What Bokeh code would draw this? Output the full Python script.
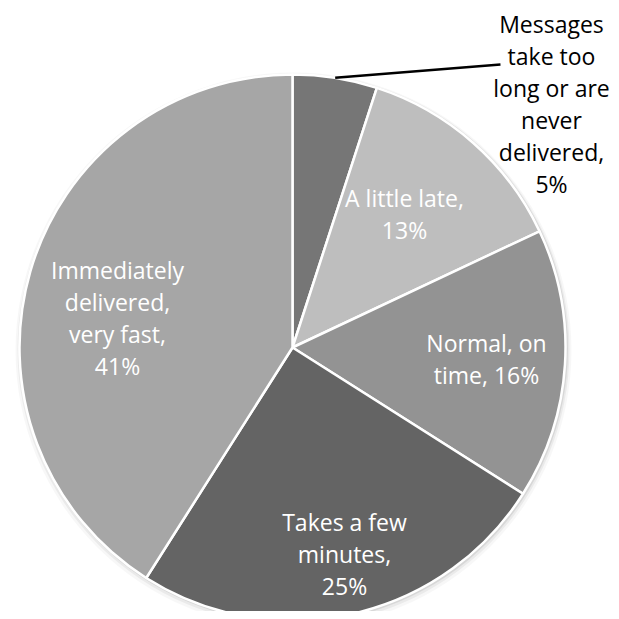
import numpy as np
from bokeh.plotting import figure
from bokeh.models import ColumnDataSource, Range1d
from bokeh.core.properties import value
from bokeh.embed import file_html
from bokeh.resources import INLINE

# ---- data ----
categories = ["Messages take too long or are never delivered",
              "A little late", "Normal, on time",
              "Takes a few minutes", "Immediately delivered, very fast"]
shares = [5, 13, 16, 25, 41]
labels = ["Messages\ntake too\nlong or are\nnever\ndelivered,\n5%",
          "A little late,\n13%",
          "Normal, on\ntime, 16%",
          "Takes a few\nminutes,\n25%",
          "Immediately\ndelivered,\nvery fast,\n41%"]
colors = ["#767676", "#bebebe", "#939393", "#646464", "#a6a6a6"]

# ---- layout ----
W = H = 611
cx, cy, R = 292, H - 347, 273
# label centres relative to pie centre (pixels)
label_off = [(259, 244), (112, 134), (194, -11), (52, -206), (-175, 30)]
label_colors = ["#000000", "#ffffff", "#ffffff", "#ffffff", "#ffffff"]
leader_end = (500, H - 64)

vals = np.array(shares, dtype=float)
frac = vals / vals.sum()
cum = np.concatenate([[0], np.cumsum(frac)])
start = np.pi / 2 - 2 * np.pi * cum[:-1]
end = np.pi / 2 - 2 * np.pi * cum[1:]
mid = (start + end) / 2

p = figure(width=W, height=H, x_range=Range1d(0, W), y_range=Range1d(0, H),
           output_backend="svg", toolbar_location=None, min_border=0)
p.axis.visible = False
p.grid.visible = False
p.outline_line_color = None
p.background_fill_color = "white"

# soft shadow
for dr, dy, a in [(5, -3, 0.03), (3, -2, 0.05), (1.5, -1, 0.08)]:
    p.circle(x=[cx + 1], y=[cy + dy], radius=R + dr, fill_color="black",
             fill_alpha=a, line_color=None)

src = ColumnDataSource(dict(start=end, end=start, color=colors, cat=categories))
p.wedge(x=cx, y=cy, radius=R, start_angle="start", end_angle="end",
        fill_color="color", line_color="white", line_width=2.5, source=src)

# leader line for the small slice
p.line(x=[cx + R * np.cos(mid[0]), leader_end[0]],
       y=[cy + R * np.sin(mid[0]), leader_end[1]],
       line_color="black", line_width=2.5)

lx = [cx + o[0] for o in label_off]
ly = [cy + o[1] for o in label_off]
lsrc = ColumnDataSource(dict(x=lx, y=ly, text=labels, c=label_colors))
p.text(x="x", y="y", text="text", text_color="c", source=lsrc,
       text_font=value("Open Sans"), text_font_size="23px",
       text_align="center", text_baseline="middle", text_line_height=1.0)

open("out.html", "w").write(file_html(p, INLINE))
